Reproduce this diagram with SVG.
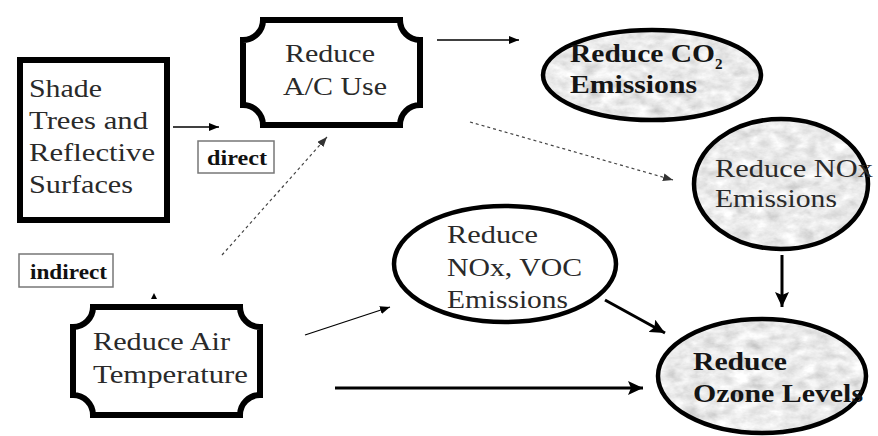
<svg xmlns="http://www.w3.org/2000/svg" width="878" height="436" viewBox="0 0 878 436">
<style>
.box{fill:#fff;stroke:#000;stroke-width:6}
.ell{fill:#fff;stroke:#000;stroke-width:4.5}
.ellg{fill:none;stroke:#000;stroke-width:4.5}
.t{font-family:"Liberation Serif","DejaVu Serif","Times New Roman",serif;font-size:26px;fill:#2a2a2a}
.b{font-weight:bold;fill:#151515}
.sub{font-size:15px}
.lbl{font-family:"Liberation Serif","DejaVu Serif","Times New Roman",serif;font-size:20px;font-weight:bold;fill:#111}
.lblbox{fill:#fff;stroke:#777;stroke-width:1.5}
.thin{stroke:#000;stroke-width:1.3;fill:none}
.thick{stroke:#000;stroke-width:3;fill:none}
.dot{stroke:#444;stroke-width:1.2;fill:none;stroke-dasharray:3 3}
</style>
<defs>
<marker id="ah" markerUnits="userSpaceOnUse" markerWidth="11" markerHeight="8" refX="10" refY="4" orient="auto"><path d="M0,0 L10,4 L0,8 z" fill="#000"/></marker>
<marker id="ahg" markerUnits="userSpaceOnUse" markerWidth="11" markerHeight="8" refX="10" refY="4" orient="auto"><path d="M0,0 L10,4 L0,8 z" fill="#333"/></marker>
<marker id="AH" markerUnits="userSpaceOnUse" markerWidth="16" markerHeight="14" refX="15" refY="7" orient="auto"><path d="M0,0 L15,7 L0,14 L3,7 z" fill="#000"/></marker>
<filter id="marble" x="0" y="0" width="100%" height="100%">
<feTurbulence type="fractalNoise" baseFrequency="0.06 0.1" numOctaves="4" seed="7" result="n"/>
<feColorMatrix in="n" type="matrix" values="0.35 0.35 0.35 0 0.3  0.35 0.35 0.35 0 0.3  0.35 0.35 0.35 0 0.3  0 0 0 0 1" result="g"/>
<feComposite in="g" in2="SourceGraphic" operator="in"/>
</filter>
</defs>

<g id="connectors">
<line class="thin" x1="173" y1="127" x2="219" y2="127" marker-end="url(#ah)"/>
<line class="thin" x1="437" y1="40" x2="519" y2="40" marker-end="url(#ah)"/>
<line class="dot" x1="470" y1="122" x2="673" y2="180" marker-end="url(#ahg)"/>
<line class="dot" x1="222" y1="255" x2="327" y2="137" marker-end="url(#ahg)"/>
<line class="thin" x1="305" y1="335" x2="390" y2="307" marker-end="url(#ah)"/>
<line class="thick" x1="335" y1="388" x2="643" y2="388" marker-end="url(#AH)"/>
<line class="thick" x1="605" y1="300" x2="665" y2="333" marker-end="url(#AH)"/>
<line class="thick" x1="782" y1="255" x2="782" y2="307" marker-end="url(#AH)"/>
<path d="M151,299 L154,293 L157,299 z" fill="#000"/>
</g>

<g id="shade">
<rect class="box" x="20" y="60" width="147" height="160"/>
<text class="t" x="29" y="97" textLength="73" lengthAdjust="spacingAndGlyphs">Shade</text>
<text class="t" x="29" y="129" textLength="119" lengthAdjust="spacingAndGlyphs">Trees and</text>
<text class="t" x="29" y="161" textLength="126" lengthAdjust="spacingAndGlyphs">Reflective</text>
<text class="t" x="29" y="193" textLength="104" lengthAdjust="spacingAndGlyphs">Surfaces</text>
</g>

<g id="direct">
<rect class="lblbox" x="198" y="141" width="76" height="32"/>
<text class="lbl" x="207" y="165" textLength="60" lengthAdjust="spacingAndGlyphs">direct</text>
</g>

<g id="indirect">
<rect class="lblbox" x="19" y="254" width="94" height="33"/>
<text class="lbl" x="30" y="279" textLength="77" lengthAdjust="spacingAndGlyphs">indirect</text>
</g>

<g id="ac">
<path class="box" d="M263,20 H400 A20,20 0 0 0 420,40 V105 A20,20 0 0 0 400,125 H263 A20,20 0 0 0 243,105 V40 A20,20 0 0 0 263,20 Z"/>
<text class="t" x="285" y="62" textLength="90" lengthAdjust="spacingAndGlyphs">Reduce</text>
<text class="t" x="283" y="95" textLength="104" lengthAdjust="spacingAndGlyphs">A/C Use</text>
</g>

<g id="air">
<path class="box" d="M93,307 H240 A20,20 0 0 0 260,327 V395 A20,20 0 0 0 240,415 H93 A20,20 0 0 0 73,395 V327 A20,20 0 0 0 93,307 Z"/>
<text class="t" x="93" y="350" textLength="137" lengthAdjust="spacingAndGlyphs">Reduce Air</text>
<text class="t" x="93" y="383" textLength="155" lengthAdjust="spacingAndGlyphs">Temperature</text>
</g>

<g id="co2">
<ellipse cx="652" cy="75" rx="109" ry="45" fill="#fff" filter="url(#marble)"/>
<ellipse class="ellg" cx="652" cy="75" rx="109" ry="45"/>
<text class="t b" x="570" y="62" textLength="145" lengthAdjust="spacingAndGlyphs">Reduce CO</text>
<text class="t b sub" x="715" y="69">2</text>
<text class="t b" x="570" y="93" textLength="127" lengthAdjust="spacingAndGlyphs">Emissions</text>
</g>

<g id="nox">
<ellipse cx="781" cy="184" rx="87" ry="65" fill="#fff" filter="url(#marble)"/>
<ellipse class="ellg" cx="781" cy="184" rx="87" ry="65"/>
<text class="t" x="715" y="177" textLength="158" lengthAdjust="spacingAndGlyphs">Reduce NOx</text>
<text class="t" x="715" y="207" textLength="122" lengthAdjust="spacingAndGlyphs">Emissions</text>
</g>

<g id="noxvoc">
<ellipse class="ell" cx="505" cy="264" rx="111" ry="58"/>
<text class="t" x="447" y="243" textLength="91" lengthAdjust="spacingAndGlyphs">Reduce</text>
<text class="t" x="447" y="276" textLength="135" lengthAdjust="spacingAndGlyphs">NOx, VOC</text>
<text class="t" x="447" y="308" textLength="121" lengthAdjust="spacingAndGlyphs">Emissions</text>
</g>

<g id="ozone">
<ellipse cx="762" cy="376" rx="104" ry="57" fill="#fff" filter="url(#marble)"/>
<ellipse class="ellg" cx="762" cy="376" rx="104" ry="57"/>
<text class="t b" x="693" y="370" textLength="94" lengthAdjust="spacingAndGlyphs">Reduce</text>
<text class="t b" x="693" y="402" textLength="170" lengthAdjust="spacingAndGlyphs">Ozone Levels</text>
</g>
</svg>
